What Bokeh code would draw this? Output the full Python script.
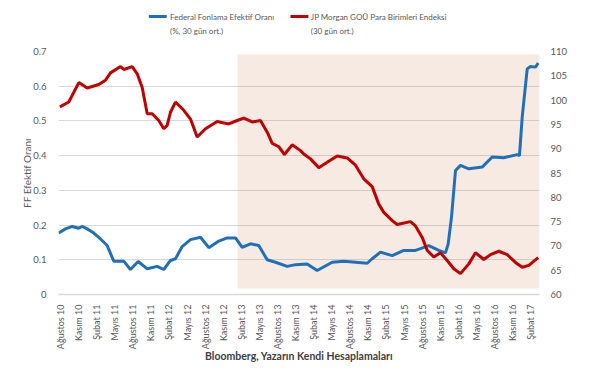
from bokeh.plotting import figure
from bokeh.layouts import column
from bokeh.models import Range1d, LinearAxis, FixedTicker
from bokeh.core.properties import value
from bokeh.embed import file_html
from bokeh.resources import INLINE

# ---- data (months after August 2010) ----
tick_months = [0, 3, 6, 9, 12, 15, 18, 21, 24, 27, 30, 33, 36, 39, 42, 45, 48, 51, 54, 57, 60, 63, 66, 69, 72, 75, 78]
tick_labels = ["Ağustos 10", "Kasım 10", "Şubat 11", "Mayıs 11", "Ağustos 11", "Kasım 11", "Şubat 12",
               "Mayıs 12", "Ağustos 12", "Kasım 12", "Şubat 13", "Mayıs 13", "Ağustos 13", "Kasım 13",
               "Şubat 14", "Mayıs 14", "Ağustos 14", "Kasım 14", "Şubat 15", "Mayıs 15", "Ağustos 15",
               "Kasım 15", "Şubat 16", "Mayıs 16", "Ağustos 16", "Kasım 16", "Şubat 17"]

ff_month = [-0.3, 0.83, 1.94, 3.04, 3.60, 4.43, 5.53, 6.64, 7.75, 8.84, 10.50, 11.61, 12.89, 14.39, 16.04,
            17.14, 18.25, 19.08, 20.19, 21.57, 23.23, 24.61, 26.27, 27.66, 29.04, 30.15, 31.53, 32.90, 34.30,
            35.67, 37.61, 39.0, 40.93, 42.59, 45.08, 47.01, 50.89, 51.72, 53.09, 55.04, 56.96, 58.90, 59.73,
            61.11, 62.77, 63.88, 64.33, 64.88, 65.54, 66.37, 67.75, 69.97, 71.63, 73.55, 75.78, 76.16, 76.61,
            77.44, 77.98, 78.81, 79.26]
ff_rate = [0.177, 0.189, 0.196, 0.191, 0.196, 0.189, 0.177, 0.160, 0.141, 0.096, 0.096, 0.072, 0.095, 0.074,
           0.081, 0.072, 0.098, 0.103, 0.138, 0.158, 0.165, 0.135, 0.154, 0.163, 0.163, 0.136, 0.146, 0.141,
           0.100, 0.093, 0.081, 0.086, 0.088, 0.069, 0.093, 0.096, 0.090, 0.103, 0.122, 0.112, 0.127, 0.127,
           0.132, 0.141, 0.127, 0.120, 0.146, 0.223, 0.357, 0.372, 0.362, 0.367, 0.396, 0.394, 0.403, 0.400,
           0.511, 0.650, 0.657, 0.655, 0.667]

em_month = [-0.1, 1.38, 3.04, 4.43, 6.35, 7.47, 8.30, 9.96, 10.50, 11.90, 12.73, 13.56, 14.39, 15.22, 16.31,
            17.14, 17.70, 18.25, 19.08, 20.46, 21.57, 22.68, 24.06, 26.00, 27.93, 29.32, 30.41, 31.81, 33.18,
            34.30, 35.13, 36.22, 37.17, 38.44, 39.82, 40.37, 41.48, 42.86, 44.25, 45.91, 47.57, 48.95, 50.32,
            51.72, 52.81, 53.64, 55.04, 55.87, 58.07, 58.90, 60.0, 60.84, 61.94, 63.05, 64.16, 65.26, 66.37,
            67.75, 68.86, 70.24, 71.35, 72.73, 74.12, 75.49, 76.61, 77.70, 79.26]
em_index = [98.6, 99.6, 103.6, 102.5, 103.2, 104.1, 105.6, 106.9, 106.3, 106.9, 105.4, 102.6, 97.2, 97.2, 95.8,
            94.1, 94.8, 97.5, 99.6, 97.9, 96.1, 92.4, 94.1, 95.6, 95.1, 95.8, 96.3, 95.5, 95.8, 93.4, 91.1,
            90.4, 88.8, 90.8, 89.6, 88.9, 87.9, 86.1, 87.2, 88.5, 88.1, 86.6, 83.8, 82.2, 78.6, 76.9, 75.2,
            74.4, 75.0, 74.1, 71.8, 69.1, 67.7, 68.6, 67.0, 65.3, 64.3, 66.3, 68.6, 67.2, 68.2, 68.9, 68.2,
            66.6, 65.6, 66.0, 67.6]

highlight_start = [29.4]
highlight_end = [79.5]
highlight_low = [0.017]
highlight_high = [0.692]

legend_names = ["Federal Fonlama Efektif Oranı", "JP Morgan GOÜ Para Birimleri Endeksi"]
legend_notes = ["(%, 30 gün ort.)", "(30 gün ort.)"]

BLUE = "#1F70B8"
RED = "#C00000"
TXT = "#595959"
FONT = "Lato"

# ---- legend strip (pixel coordinates) ----
lg = figure(width=591, height=44, x_range=Range1d(0, 591), y_range=Range1d(44, 0),
            output_backend="svg", toolbar_location=None, min_border=0)
lg.axis.visible = False
lg.grid.grid_line_color = None
lg.outline_line_color = None
lg.segment(x0=[111, 285], y0=[16, 16], x1=[133, 307], y1=[16, 16], line_color=[BLUE, RED], line_width=3)
lg.text(x=[137, 310], y=[16, 16], text=legend_names, text_baseline="middle", text_align="left",
        text_font=value(FONT), text_font_size="8px", text_color=TXT)
lg.text(x=[137, 310], y=[30, 30], text=legend_notes, text_baseline="middle", text_align="left",
        text_font=value(FONT), text_font_size="8px", text_color=TXT)

# ---- main chart ----
p = figure(width=591, height=328, x_range=Range1d(-0.33, 79.48), y_range=Range1d(0, 0.7),
           output_backend="svg", toolbar_location=None,
           min_border_left=58, min_border_right=52, min_border_top=7, min_border_bottom=78)
p.outline_line_color = None
p.extra_y_ranges = {"em": Range1d(60, 110)}

p.quad(left=highlight_start, right=highlight_end, bottom=highlight_low, top=highlight_high,
       fill_color="#C0753D", fill_alpha=0.15, line_color=None)

r_ff = p.line(ff_month, ff_rate, line_color=BLUE, line_width=3)
r_em = p.line(em_month, em_index, line_color=RED, line_width=3, y_range_name="em")

# x axis
p.xaxis.ticker = FixedTicker(ticks=tick_months)
p.xaxis.major_label_overrides = {m: l for m, l in zip(tick_months, tick_labels)}
p.xaxis.major_label_orientation = 1.5707963
p.xaxis.axis_line_color = "#D9D9D9"
p.xaxis.axis_line_width = 1.5
p.xaxis.major_tick_line_color = None
p.xaxis.minor_tick_line_color = None
p.xaxis.major_label_text_font = FONT
p.xaxis.major_label_text_font_size = "9px"
p.xaxis.major_label_text_color = TXT
p.xaxis.major_label_standoff = 4
p.xaxis.axis_label = "Bloomberg, Yazarın Kendi Hesaplamaları"
p.xaxis.axis_label_text_font = FONT
p.xaxis.axis_label_text_font_style = "bold"
p.xaxis.axis_label_text_font_size = "10.5px"
p.xaxis.axis_label_text_color = "#404040"
p.xaxis.axis_label_standoff = -2
p.xgrid.grid_line_color = None

# left axis
p.yaxis.ticker = FixedTicker(ticks=[0, 0.1, 0.2, 0.3, 0.4, 0.5, 0.6, 0.7])
p.yaxis.major_label_overrides = {0: "0"}
p.yaxis.axis_line_color = None
p.yaxis.major_tick_line_color = None
p.yaxis.minor_tick_line_color = None
p.yaxis.major_label_text_font = FONT
p.yaxis.major_label_text_font_size = "9.5px"
p.yaxis.major_label_text_color = TXT
p.yaxis.major_label_standoff = 6
p.yaxis.axis_label = "FF Efektif Oranı"
p.yaxis.axis_label_text_font = FONT
p.yaxis.axis_label_text_font_style = "normal"
p.yaxis.axis_label_text_font_size = "10px"
p.yaxis.axis_label_text_color = TXT
p.yaxis.axis_label_standoff = -3
p.ygrid.grid_line_color = "#D9D9D9"
p.ygrid.ticker = FixedTicker(ticks=[0.1, 0.2, 0.3, 0.4, 0.5, 0.6, 0.7])

# right axis
ax_r = LinearAxis(y_range_name="em", ticker=FixedTicker(ticks=[60, 65, 70, 75, 80, 85, 90, 95, 100, 105, 110]))
ax_r.axis_line_color = None
ax_r.major_tick_line_color = None
ax_r.minor_tick_line_color = None
ax_r.major_label_text_font = FONT
ax_r.major_label_text_font_size = "9.5px"
ax_r.major_label_text_color = TXT
ax_r.major_label_standoff = 5
p.add_layout(ax_r, "right")

layout = column(lg, p, spacing=0)
open("out.html", "w").write(file_html(layout, INLINE))
